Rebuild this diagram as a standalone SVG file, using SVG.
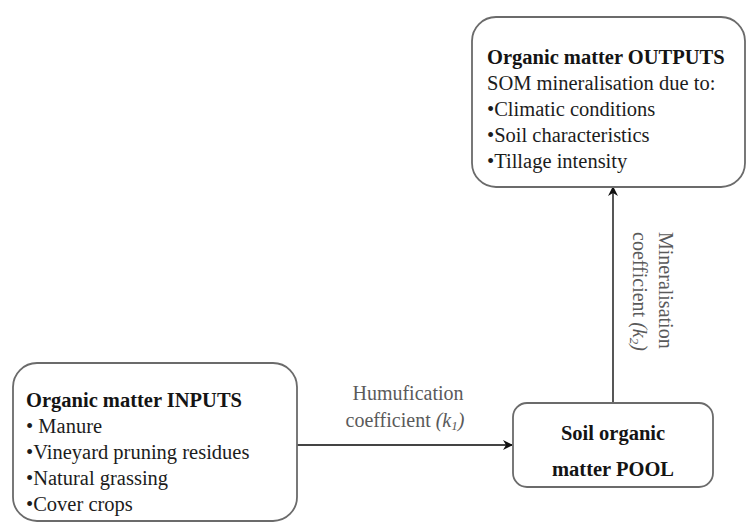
<svg xmlns="http://www.w3.org/2000/svg" width="747" height="526" viewBox="0 0 747 526">
  <style>
    .box { fill: #ffffff; stroke: #6b6b6b; stroke-width: 1.8; }
    .title { font-family: "Liberation Serif", "Times New Roman", serif; font-weight: bold; font-size: 20.5px; fill: #141414; }
    .item { font-family: "Liberation Serif", "Times New Roman", serif; font-size: 20.5px; fill: #1c1c1c; }
    .label { font-family: "Liberation Serif", "Times New Roman", serif; font-size: 20px; fill: #5a5a5a; }
    .edge { stroke: #444444; stroke-width: 1.8; fill: none; }
  </style>
  <defs>
    <marker id="arrow" viewBox="0 0 10 10" refX="9" refY="5" markerWidth="10" markerHeight="10" markerUnits="userSpaceOnUse" orient="auto">
      <path d="M0,0 L10,5 L0,10 L3,5 Z" fill="#111111"/>
    </marker>
  </defs>
  <rect width="747" height="526" fill="#ffffff"/>

  <g id="connectors">
    <line class="edge" x1="297" y1="445" x2="512" y2="445" marker-end="url(#arrow)"/>
    <line class="edge" x1="613" y1="403" x2="613" y2="187" marker-end="url(#arrow)"/>
    <text class="label" x="408" y="400" text-anchor="middle">Humufication</text>
    <text class="label" x="405" y="427" text-anchor="middle">coefficient <tspan font-style="italic">(k<tspan font-size="13" dy="3">1</tspan><tspan dy="-3">)</tspan></tspan></text>
    <g transform="translate(659,232) rotate(90)">
      <text class="label" x="0" y="0">Mineralisation</text>
      <text class="label" x="0" y="26">coefficient <tspan font-style="italic">(k<tspan font-size="13" dy="3">2</tspan><tspan dy="-3">)</tspan></tspan></text>
    </g>
  </g>

  <g id="inputs">
    <rect class="box" x="13" y="363" width="284" height="158" rx="24" ry="24"/>
    <text class="title" x="26" y="407">Organic matter INPUTS</text>
    <text class="item" x="26" y="433">•  Manure</text>
    <text class="item" x="26" y="459">•Vineyard pruning residues</text>
    <text class="item" x="26" y="485">•Natural grassing</text>
    <text class="item" x="26" y="511">•Cover crops</text>
  </g>

  <g id="pool">
    <rect class="box" x="513" y="403" width="200" height="84" rx="14" ry="14"/>
    <text class="title" x="613" y="440" text-anchor="middle">Soil organic</text>
    <text class="title" x="613" y="476" text-anchor="middle">matter POOL</text>
  </g>

  <g id="outputs">
    <rect class="box" x="472" y="17" width="273" height="170" rx="24" ry="24"/>
    <text class="title" x="487" y="64">Organic matter OUTPUTS</text>
    <text class="item" x="487" y="90">SOM mineralisation due to:</text>
    <text class="item" x="487" y="116">•Climatic conditions</text>
    <text class="item" x="487" y="142">•Soil characteristics</text>
    <text class="item" x="487" y="168">•Tillage intensity</text>
  </g>
</svg>
